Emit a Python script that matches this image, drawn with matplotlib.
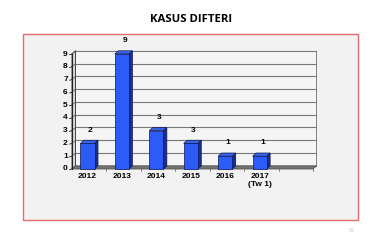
import matplotlib
matplotlib.use("Agg")
import matplotlib.pyplot as plt
from matplotlib.patches import Rectangle, Polygon

# data
years = ["2012", "2013", "2014", "2015", "2016", "2017\n(Tw 1)"]
cases = [2, 9, 3, 2, 1, 1]
value_labels = ["2", "9", "3", "3", "1", "1"]
y_ticks = list(range(0, 10))

n_slots = 7          # one empty slot at the right, as in the original
dx, dy = 0.1, 0.25   # 3d depth in data units
w = 0.41

fig = plt.figure(figsize=(3.8, 2.41), dpi=100)
fig.patch.set_facecolor("white")

# red frame with grey fill
fig.patches.append(Rectangle((22.5 / 380, 1 - 219.5 / 241), 335 / 380, 186 / 241,
                             transform=fig.transFigure, facecolor="#f2f2f2",
                             edgecolor="#e56b70", lw=1.0, zorder=-5))
fig.text(0.503, 1 - 19 / 241, "KASUS DIFTERI", ha="center", va="center",
         fontsize=8.2, fontweight="bold", family="Open Sans")
fig.text(352 / 380, 1 - 230 / 241, "82", ha="center", va="center",
         fontsize=3.5, color="#c8c8c8")

ax = fig.add_axes([72 / 380, (241 - 169) / 241, (313 - 72) / 380, (169 - 54) / 241])
ax.set_zorder(1)
ax.set_xlim(0, n_slots)
ax.set_ylim(0, 9)
ax.axis("off")

kw = dict(clip_on=False)
# back wall
ax.add_patch(Polygon([(dx, dy), (n_slots + dx, dy), (n_slots + dx, 9 + dy), (dx, 9 + dy)],
                     facecolor="#f5f5f5", edgecolor="#6e6e6e", lw=0.6, zorder=1, **kw))
# left wall
ax.add_patch(Polygon([(0, 0), (dx, dy), (dx, 9 + dy), (0, 9)],
                     facecolor="#d8d8d8", edgecolor="#333333", lw=0.6, zorder=2, **kw))
# floor
ax.add_patch(Polygon([(0, 0), (n_slots, 0), (n_slots + dx, dy), (dx, dy)],
                     facecolor="#737373", edgecolor="#555555", lw=0.6, zorder=2, **kw))

for v in y_ticks:
    ax.plot([dx, n_slots + dx], [v + dy, v + dy], color="#777777", lw=0.8, zorder=1.5, **kw)
    ax.plot([0, dx], [v, v + dy], color="#555555", lw=0.5, zorder=2.5, **kw)
    ax.plot([-0.07, 0], [v - 0.05, v], color="#222222", lw=0.6, zorder=2.5, **kw)
    ax.text(-0.12, v, str(v), ha="right", va="center", fontsize=6,
            fontweight="bold", family="Liberation Sans")
ax.plot([0, 0], [0, 9], color="#222222", lw=0.8, zorder=3, **kw)

for k in range(1, n_slots + 1):
    ax.plot([k, k], [0, -0.12], color="#555555", lw=0.5, **kw)

for i, (lab, h, vl) in enumerate(zip(years, cases, value_labels)):
    x0 = i + 0.45 - w / 2
    ax.add_patch(Polygon([(x0 + w, 0), (x0 + w + dx, dy), (x0 + w + dx, h + dy), (x0 + w, h)],
                         facecolor="#1c2e8c", edgecolor="#0d1650", lw=0.5, zorder=4, **kw))
    ax.add_patch(Polygon([(x0, h), (x0 + w, h), (x0 + w + dx, h + dy), (x0 + dx, h + dy)],
                         facecolor="#3a63e8", edgecolor="#0d1650", lw=0.5, zorder=4, **kw))
    ax.add_patch(Rectangle((x0, 0), w, h, facecolor="#2b5cf8", edgecolor="#0d1650",
                           lw=0.5, zorder=5, **kw))
    ax.text(x0 + w / 2 + 0.08, h + 1.05, vl, ha="center", va="center", fontsize=6,
            fontweight="bold", family="Liberation Sans")
    ax.text(i + 0.45, -0.35, lab, ha="center", va="top", fontsize=6, fontweight="bold",
            family="Liberation Sans", linespacing=1.1)

fig.savefig("out.png", dpi=100, facecolor="white")
